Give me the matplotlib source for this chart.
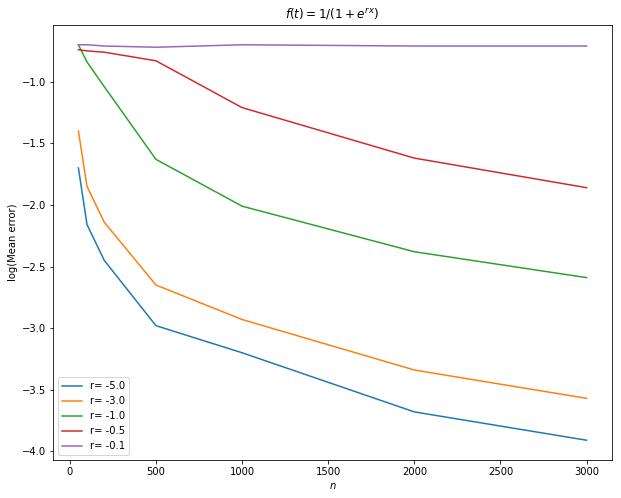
import matplotlib
matplotlib.use("Agg")
import matplotlib.pyplot as plt

n = [50, 100, 200, 500, 1000, 2000, 3000]
r_values = [-5.0, -3.0, -1.0, -0.5, -0.1]
err_r5 = [-1.70, -2.16, -2.45, -2.98, -3.20, -3.68, -3.91]
err_r3 = [-1.40, -1.85, -2.14, -2.65, -2.93, -3.34, -3.57]
err_r1 = [-0.70, -0.84, -1.04, -1.63, -2.01, -2.38, -2.59]
err_r05 = [-0.74, -0.75, -0.76, -0.83, -1.21, -1.62, -1.86]
err_r01 = [-0.70, -0.70, -0.71, -0.72, -0.70, -0.71, -0.71]
series = [err_r5, err_r3, err_r1, err_r05, err_r01]

fig = plt.figure(figsize=(621 / 72, 498 / 72), dpi=72)
ax = fig.add_axes([53 / 621, 1 - 460 / 498, (612 - 53) / 621, (460 - 25) / 498])
for r, ys in zip(r_values, series):
    ax.plot(n, ys, label=f"r= {r}")
ax.set_title(r"$f(t) = 1/(1+e^{rx})$")
ax.set_xlabel(r"$n$")
ax.set_ylabel("log(Mean error)")
ax.legend(loc="lower left")
fig.savefig("out.png", dpi=72)
